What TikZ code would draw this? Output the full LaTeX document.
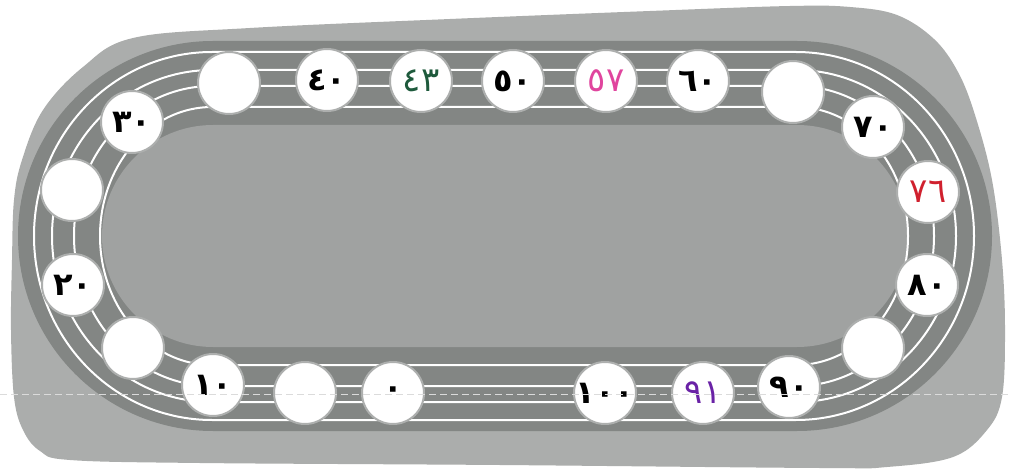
\documentclass[tikz,border=0pt]{standalone}
\usepackage{fontspec}
\newfontfamily\arabicfont[Script=Arabic]{DejaVu Sans}
\definecolor{blobgray}{HTML}{ABADAC}
\definecolor{bandgray}{HTML}{838684}
\definecolor{fieldgray}{HTML}{A0A2A1}
\definecolor{ringgray}{HTML}{ADAFAE}
\definecolor{hgreen}{HTML}{1E5A3C}
\definecolor{hmagenta}{HTML}{E0459E}
\definecolor{hred}{HTML}{D0202E}
\definecolor{hpurple}{HTML}{6A22A6}
\tikzset{
  spot/.style={circle, fill=white, draw=ringgray, line width=2pt, minimum size=62pt, inner sep=0pt,
    font=\arabicfont\bfseries\fontsize{32}{32}\selectfont},
  hand/.style={font=\arabicfont\fontsize{34}{34}\selectfont},
  lane/.style={draw=white, line width=2pt},
}
\newcommand{\stadium}[4]{% b, a, left cx, right cx
  (#3,236-#1) -- (#4,236-#1) arc[start angle=-90, end angle=90, x radius=#2, y radius=#1]
  -- (#3,236+#1) arc[start angle=90, end angle=270, x radius=#2, y radius=#1] -- cycle}
\begin{document}
\begin{tikzpicture}[x=1pt,y=-1pt]
\useasboundingbox (0,0) rectangle (1011,470);
\fill[white] (0,0) rectangle (1011,470);
% background blob
\fill[blobgray] plot[smooth cycle, tension=0.6] coordinates {
 (250,28) (450,19) (650,11) (790,6) (850,7) (897,15) (934,39) (958,72) (975,115) (992,180)
 (1002,260) (1005,330) (1002,397) (987,430) (953,457) (887,467) (820,468)
 (500,465) (200,463) (70,460) (40,451) (23,430) (14,397) (11,330) (12,260)
 (14,200) (22,160) (43,110) (83,67) (133,38)};
% track band and inner field
\fill[bandgray] \stadium{195}{195}{213}{797};
\fill[fieldgray] \stadium{111}{111}{213}{797};
% lane lines
\draw[lane] \stadium{184}{178}{212}{796};
\draw[lane] \stadium{166}{160}{212}{796};
\draw[lane] \stadium{150}{138}{212}{796};
\draw[lane] \stadium{129}{112}{212}{796};
% spots
\node[spot] (b1) at (229,83) {};
\node[spot] (c40) at (327,80) {٤٠};
\node[spot,hand,text=hgreen] (c43) at (421,81) {٤٣};
\node[spot] (c50) at (513,81) {٥٠};
\node[spot,hand,text=hmagenta] (c57) at (606,81) {٥٧};
\node[spot] (c60) at (698,81) {٦٠};
\node[spot] (b2) at (793,92) {};
\node[spot] (c70) at (873,127) {٧٠};
\node[spot,hand,text=hred] (c76) at (928,192) {٧٦};
\node[spot] (c80) at (927,285) {٨٠};
\node[spot] (b3) at (873,348) {};
\node[spot] (c90) at (789,387) {٩٠};
\node[spot,hand,text=hpurple] (c91) at (703,393) {٩١};
\node[spot] (c100) at (605,393) {١٠٠};
\node[spot] (c0) at (393,393) {٠};
\node[spot] (b4) at (305,393) {};
\node[spot] (c10) at (213,385) {١٠};
\node[spot] (b5) at (133,348) {};
\node[spot] (c20) at (73,285) {٢٠};
\node[spot] (b6) at (72,190) {};
\node[spot] (c30) at (132,122) {٣٠};
% faint scan guide line
\coordinate (gl) at (0,394);
\coordinate (gr) at (1011,394);
\draw[black!14, line width=0.7pt, dash pattern=on 7pt off 4pt] (gl) -- (gr);
\end{tikzpicture}
\end{document}
